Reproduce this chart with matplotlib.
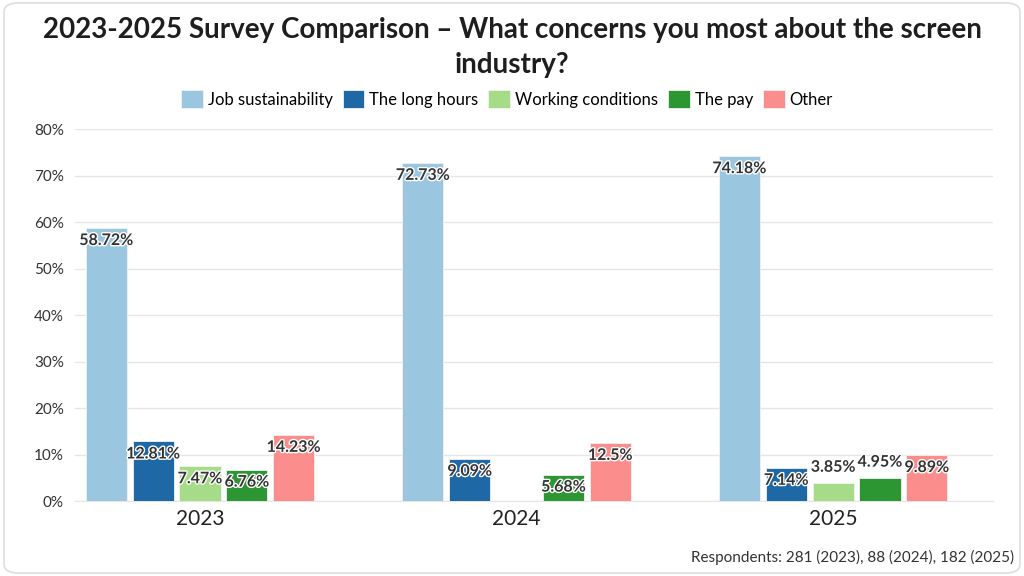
import matplotlib
matplotlib.use('Agg')
from matplotlib import pyplot as plt
import matplotlib.patheffects as pe
from matplotlib.patches import FancyBboxPatch
import numpy as np

years = ['2023', '2024', '2025']
series = ['Job sustainability', 'The long hours', 'Working conditions', 'The pay', 'Other']
job_sustainability = [58.72, 72.73, 74.18]
long_hours = [12.81, 9.09, 7.14]
working_conditions = [7.47, 0, 3.85]
the_pay = [6.76, 5.68, 4.95]
other = [14.23, 12.5, 9.89]
colors = ['#9ac6e0', '#1f68a6', '#a6dc88', '#2b9632', '#fc8d8d']

plt.rcParams['font.family'] = ['Lato', 'DejaVu Sans']

fig = plt.figure(figsize=(10.24, 5.76), dpi=100)
frame = FancyBboxPatch((0.004, 0.005), 0.992, 0.99, boxstyle='round,pad=0,rounding_size=0.015',
                       transform=fig.transFigure, facecolor='none', edgecolor='#dddddd', lw=1.2, zorder=-1)
fig.patches.append(frame)
ax = fig.add_axes([0.0732, 0.1302, 0.8965, 0.6458])
ax.patch.set_alpha(0)

x = np.arange(len(years))
width = 0.13
step = 0.148
values = [job_sustainability, long_hours, working_conditions, the_pay, other]
halo = [pe.withStroke(linewidth=2, foreground='white')]
for i, (name, vals) in enumerate(zip(series, values)):
    pos = x + (i - 2) * step
    ax.bar(pos, vals, width, color=colors[i], label=name, zorder=3,
           edgecolor='#f2f2f2', linewidth=0.6)
    for p, v in zip(pos, vals):
        if v == 0:
            continue
        lbl = '{:g}%'.format(v)
        if v > 5:
            ax.text(p, v - 2.8, lbl, ha='center', va='center', fontsize=11.5, fontweight='bold',
                    color='#333333', path_effects=halo, zorder=5)
        else:
            ax.text(p, v + 3.3, lbl, ha='center', va='center', fontsize=11.5, fontweight='bold',
                    color='#333333', path_effects=halo, zorder=5)

ax.set_xlim(-0.395, 2.505)
ax.set_ylim(0, 80)
ax.set_yticks(range(0, 81, 10))
ax.set_yticklabels(['{}%'.format(t) for t in range(0, 81, 10)], fontsize=11, color='#333333')
ax.set_xticks(x)
ax.set_xticklabels(years, fontsize=15, color='#222222')
ax.tick_params(axis='both', length=0)
ax.tick_params(axis='y', pad=8)
ax.tick_params(axis='x', pad=6)
ax.grid(axis='y', color='#e6e6e6', lw=1, zorder=0)
for s in ['top', 'right', 'left']:
    ax.spines[s].set_visible(False)
ax.spines['bottom'].set_color('#e6e6e6')

fig.text(0.5, 0.948, '2023-2025 Survey Comparison \u2013 What concerns you most about the screen',
         ha='center', va='center', fontsize=20, fontweight='bold', color='#1e1e1e')
fig.text(0.5, 0.888, 'industry?', ha='center', va='center', fontsize=20, fontweight='bold', color='#1e1e1e')

fig.legend(loc='center', bbox_to_anchor=(0.495, 0.828), ncol=5, frameon=False, fontsize=12,
           handlelength=1.3, handleheight=1.3, handletextpad=0.3, columnspacing=0.6)

fig.text(0.99, 0.032, 'Respondents: 281 (2023), 88 (2024), 182 (2025)', ha='right', va='center',
         fontsize=11, color='#333333')

plt.savefig('out.png', dpi=100)
